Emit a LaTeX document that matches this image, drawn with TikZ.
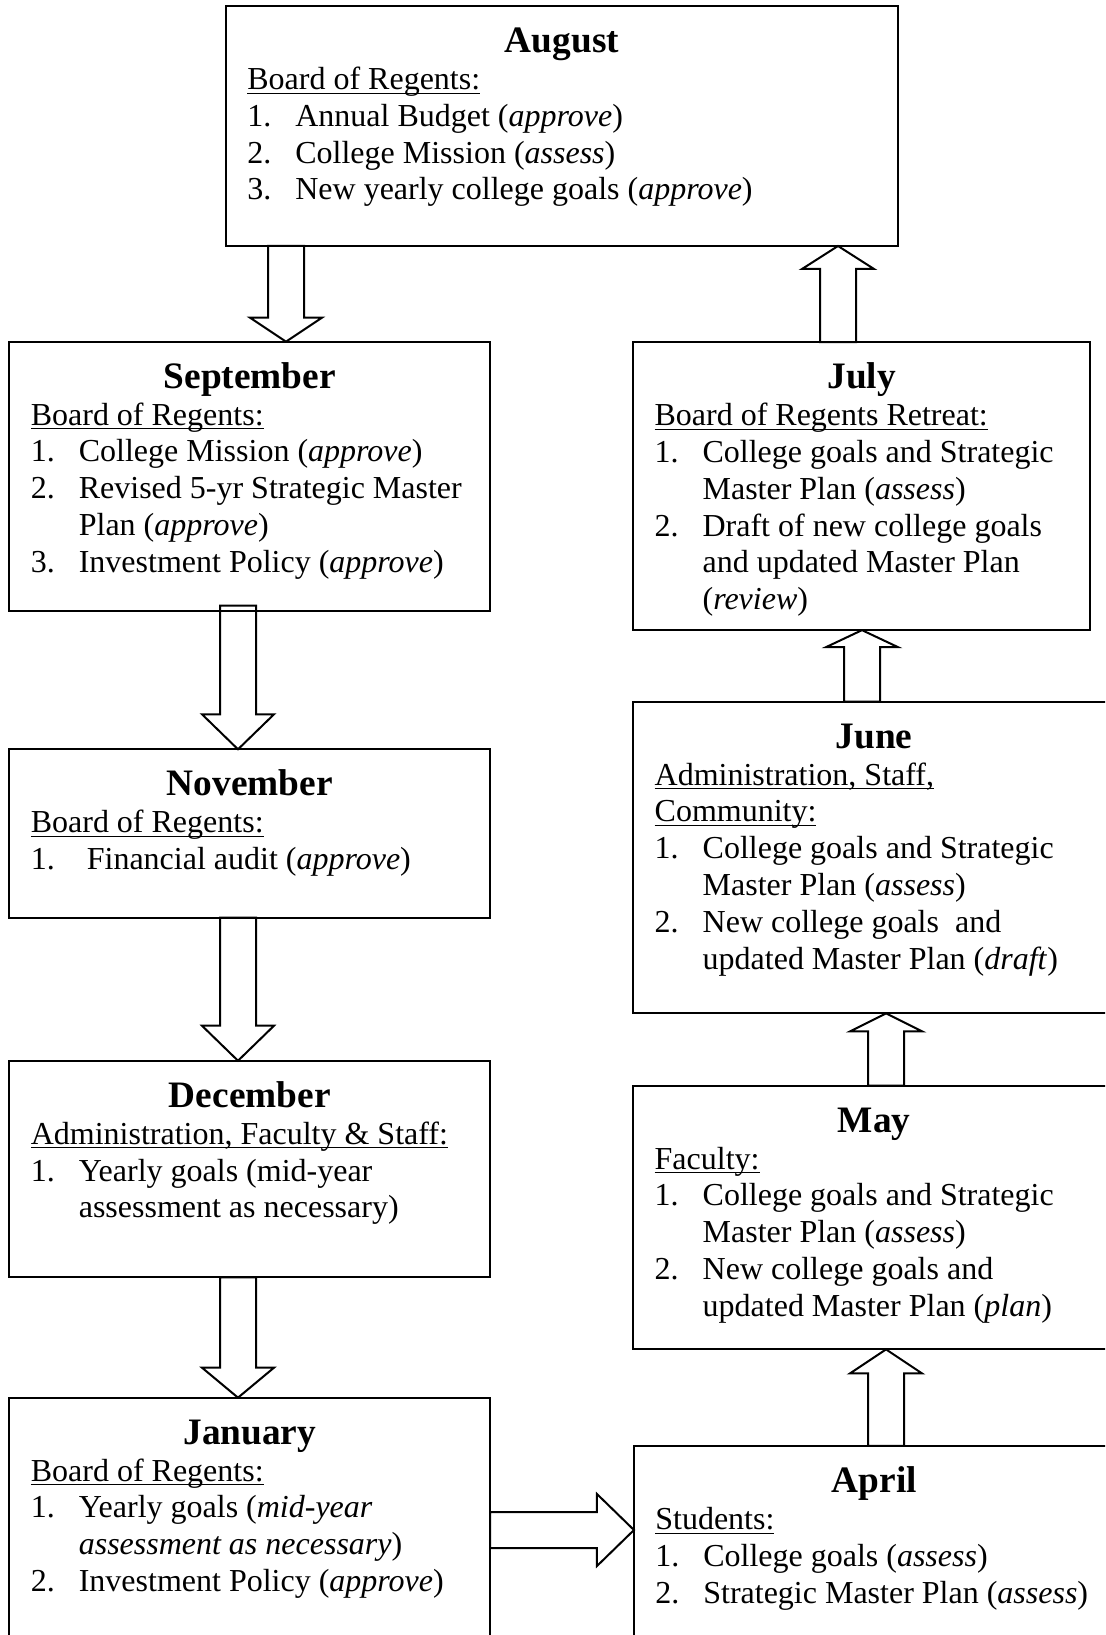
\documentclass[tikz,border=0pt]{standalone}
\usepackage{fontspec}
\setmainfont{Liberation Serif}
\newcommand{\mtitle}[1]{{\centering\fontsize{14}{13.8}\selectfont\bfseries\rule{0pt}{17.5pt}#1\par}}
\newcommand{\itm}[3][18pt]{\par\hangindent=#1\hangafter=1\noindent\makebox[#1][l]{#2}#3\par}
\newcommand{\ulbl}[1]{\underline{\smash{#1}}}
\begin{document}
\begin{tikzpicture}[x=0.375pt, y=-0.375pt,
  month/.style={draw, line width=0.75pt, inner xsep=8pt, inner ysep=0pt, outer sep=0pt, font=\fontsize{12}{13.8}\selectfont},
  hollow/.style={draw, line width=0.75pt, line join=miter}]
\useasboundingbox (0,0) rectangle (1105,1635);
\clip (0,0) rectangle (1105,1635);
% left column
\node[month] (aug) at (562,126) {\begin{minipage}[c][90pt][t]{236pt}\raggedright
  \mtitle{August}
  \ulbl{Board of Regents:}\par
  \itm{1.}{Annual Budget (\textit{approve})}
  \itm{2.}{College Mission (\textit{assess})}
  \itm{3.}{New yearly college goals (\textit{approve})}
  \end{minipage}};
\node[month] (sep) at (249.75,476.2) {\begin{minipage}[c][100.9pt][t]{164.2pt}\raggedright
  \mtitle{September}
  \ulbl{Board of Regents:}\par
  \itm{1.}{College Mission (\textit{approve})}
  \itm{2.}{Revised 5-yr Strategic Master\newline Plan (\textit{approve})}
  \itm{3.}{Investment Policy (\textit{approve})}
  \end{minipage}};
\node[month] (nov) at (249.75,833.5) {\begin{minipage}[c][63.15pt][t]{164.2pt}\raggedright
  \mtitle{November}
  \ulbl{Board of Regents:}\par
  \itm[21pt]{1.}{Financial audit (\textit{approve})}
  \end{minipage}};
\node[month] (dec) at (249.75,1169) {\begin{minipage}[c][81.2pt][t]{164.2pt}\raggedright
  \mtitle{December}
  \ulbl{Administration, Faculty \& Staff:}\par
  \itm{1.}{Yearly goals (mid-year\newline assessment as necessary)}
  \end{minipage}};
\node[month] (jan) at (249.75,1528.85) {\begin{minipage}[c][98.4pt][t]{164.2pt}\raggedright
  \mtitle{January}
  \ulbl{Board of Regents:}\par
  \itm{1.}{Yearly goals (\textit{mid-year}\newline\textit{assessment as necessary})}
  \itm{2.}{Investment Policy (\textit{approve})}
  \end{minipage}};
% right column
\node[month] (jul) at (861.65,486.15) {\begin{minipage}[c][108pt][t]{155.3pt}\raggedright
  \mtitle{July}
  \ulbl{Board of Regents Retreat:}\par
  \itm{1.}{College goals and Strategic\newline Master Plan (\textit{assess})}
  \itm{2.}{Draft of new college goals\newline and updated Master Plan\newline(\textit{review})}
  \end{minipage}};
\node[month] (jun) at (874.15,857.5) {\begin{minipage}[c][116.9pt][t]{164.6pt}\raggedright
  \mtitle{June}
  \ulbl{Administration, Staff,}\\\ulbl{Community:}\par
  \itm{1.}{College goals and Strategic\newline Master Plan (\textit{assess})}
  \itm{2.}{New college goals~~and\newline updated Master Plan (\textit{draft})}
  \end{minipage}};
\node[month] (may) at (874.15,1217.5) {\begin{minipage}[c][98.9pt][t]{164.6pt}\raggedright
  \mtitle{May}
  \ulbl{Faculty:}\par
  \itm{1.}{College goals and Strategic\newline Master Plan (\textit{assess})}
  \itm{2.}{New college goals and\newline updated Master Plan (\textit{plan})}
  \end{minipage}};
\node[month] (apr) at (874.5,1553) {\begin{minipage}[c][80.3pt][t]{164.4pt}\raggedright
  \mtitle{April}
  \ulbl{Students:}\par
  \itm{1.}{College goals (\textit{assess})}
  \itm{2.}{Strategic Master Plan (\textit{assess})}
  \end{minipage}};
% block arrows
\draw[hollow] (286,0 |- sep.north) -- ++(36,-24) -- ++(-18,0) coordinate (a1) -- (a1 |- aug.south) -- ++(-36,0) -- (268,0 |- a1) -- ++(-18,0) -- cycle;
\draw[hollow] (238,0 |- nov.north) -- ++(36,-35) -- ++(-18,0) coordinate (a2) -- (a2 |- sep.south) -- ++(0,-5) -- ++(-36,0) -- (220,0 |- a2) -- ++(-18,0) -- cycle;
\draw[hollow] (238,0 |- dec.north) -- ++(36,-35) -- ++(-18,0) coordinate (a3) -- (a3 |- nov.south) -- ++(-36,0) -- (220,0 |- a3) -- ++(-18,0) -- cycle;
\draw[hollow] (238,0 |- jan.north) -- ++(36,-30) -- ++(-18,0) coordinate (a4) -- (a4 |- dec.south) -- ++(-36,0) -- (220,0 |- a4) -- ++(-18,0) -- cycle;
\draw[hollow] (apr.west |- 0,1530) -- ++(-37,-36) -- ++(0,18) coordinate (a5) -- (jan.east |- a5) -- ++(0,36) -- (a5 |- 0,1548) -- ++(0,18) -- cycle;
\draw[hollow] (886,0 |- may.south) -- ++(36,24) -- ++(-18,0) coordinate (a6) -- (a6 |- apr.north) -- ++(-36,0) -- (868,0 |- a6) -- ++(-18,0) -- cycle;
\draw[hollow] (886,0 |- jun.south) -- ++(36,18) -- ++(-18,0) coordinate (a7) -- (a7 |- may.north) -- ++(-36,0) -- (868,0 |- a7) -- ++(-18,0) -- cycle;
\draw[hollow] (862,0 |- jul.south) -- ++(36,17) -- ++(-18,0) coordinate (a8) -- (a8 |- jun.north) -- ++(-36,0) -- (844,0 |- a8) -- ++(-18,0) -- cycle;
\draw[hollow] (838,0 |- aug.south) -- ++(36,23) -- ++(-18,0) coordinate (a9) -- (a9 |- jul.north) -- ++(-36,0) -- (820,0 |- a9) -- ++(-18,0) -- cycle;
\end{tikzpicture}
\end{document}
